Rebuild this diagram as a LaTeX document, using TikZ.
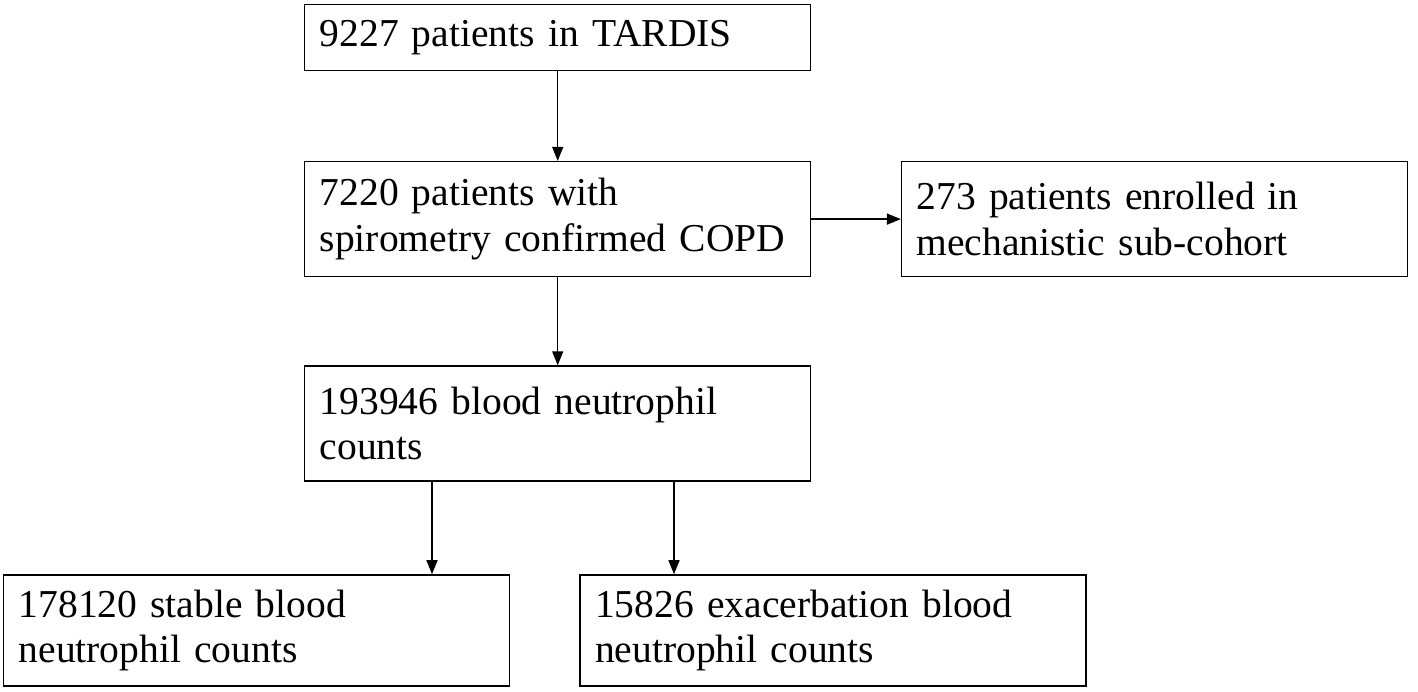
\documentclass[tikz,border=0pt]{standalone}
\usepackage{fontspec}
\setmainfont{Liberation Serif}
\usetikzlibrary{arrows.meta, positioning}

\begin{document}
\begin{tikzpicture}[
    node distance=1.79cm,
    every node/.style={font=\fontsize{22.5}{26}\selectfont, align=left},
    box/.style={draw, line width=0.8pt, rectangle, inner xsep=0.3cm,
                text width=9.52cm, minimum height=2.3cm},
    arr/.style={-{Triangle[length=0.28cm, width=0.22cm]}, line width=0.8pt}
]
\useasboundingbox (0,0) rectangle (28.36,-13.84);
\node[box, minimum height=1.32cm, anchor=north west] (tardis) at (6.08,-0.08) {9227 patients in TARDIS};
\node[box, below=of tardis] (copd) {7220 patients with\\spirometry confirmed COPD};
\node[box, right=of copd] (subcohort) {273 patients enrolled in\\mechanistic sub-cohort};
\node[box, below=1.76cm of copd] (counts) {193946 blood neutrophil\\counts};
\node[box, minimum height=2.22cm, below=1.85cm of counts.south west, anchor=north west, xshift=-6.02cm] (stable) {178120 stable blood\\neutrophil counts};
\node[box, minimum height=2.22cm, right=1.38cm of stable] (exacerb) {15826 exacerbation blood\\neutrophil counts};
\draw[arr] (tardis) -- (copd);
\draw[arr] (copd) -- (subcohort);
\draw[arr] (copd) -- (counts);
\draw[arr] ([xshift=2.56cm]counts.south west) -- ([xshift=2.56cm]counts.south west |- stable.north);
\draw[arr] ([xshift=7.4cm]counts.south west) -- ([xshift=7.4cm]counts.south west |- exacerb.north);
\end{tikzpicture}
\end{document}
